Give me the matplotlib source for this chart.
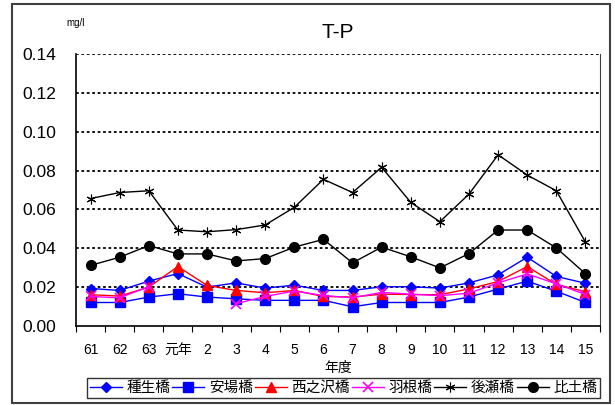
import numpy as np
import matplotlib
matplotlib.use("Agg")
import matplotlib.pyplot as plt
from matplotlib.patches import Rectangle

plt.rcParams['font.family'] = ['Liberation Sans', 'Noto Sans CJK JP', 'DejaVu Sans']

# 年度
years = ['61', '62', '63', '元年', '2', '3', '4', '5', '6', '7', '8', '9',
         '10', '11', '12', '13', '14', '15']

# T-P (mg/l)
tanebashi = [0.0193, 0.0183, 0.0231, 0.027, 0.020, 0.0222, 0.0195, 0.021, 0.0183,
             0.0183, 0.0202, 0.0202, 0.0195, 0.0222, 0.0263, 0.0354, 0.0255, 0.022]
yasubabashi = [0.0121, 0.0121, 0.0149, 0.0166, 0.0149, 0.014, 0.0132, 0.0132, 0.0132,
               0.0099, 0.0121, 0.0121, 0.0121, 0.0149, 0.019, 0.0231, 0.0179, 0.0121]
nishinosawa = [0.0161, 0.0154, 0.020, 0.0306, 0.0209, 0.0183, 0.0171, 0.0183, 0.0152,
               0.0149, 0.0164, 0.0162, 0.0161, 0.0191, 0.0229, 0.0306, 0.0214, 0.0176]
hanebashi = [0.0152, 0.0145, 0.0203, np.nan, np.nan, 0.0115, 0.0152, 0.018, 0.0157,
             0.0145, 0.0173, 0.0164, 0.0156, 0.0169, 0.0222, 0.0268, 0.0217, 0.0162]
nochise = [0.0656, 0.0687, 0.0696, 0.0494, 0.0485, 0.0496, 0.052, 0.0611, 0.0755,
           0.0687, 0.0817, 0.0636, 0.0537, 0.0679, 0.0881, 0.0777, 0.0696, 0.0432]
hijibashi = [0.0312, 0.0354, 0.0414, 0.0371, 0.0371, 0.0335, 0.0347, 0.0406, 0.0446,
             0.0325, 0.0406, 0.0356, 0.0299, 0.0373, 0.0494, 0.0494, 0.0402, 0.0269]

fig = plt.figure(figsize=(6.15, 4.05), dpi=100)
ax = fig.add_axes([76 / 615, 1 - 326 / 405, 524 / 615, 272 / 405])

x = np.arange(len(years))

# 各地点
ax.plot(x, tanebashi, color='#0000FF', lw=1, marker='D', ms=5, label='種生橋')
ax.plot(x, yasubabashi, color='#0000FF', lw=1, marker='s', ms=6.5, label='安場橋')
ax.plot(x, nishinosawa, color='#FF0000', lw=1, marker='^', ms=7, label='西之沢橋')
ax.plot(x, hanebashi, color='#FF00FF', lw=1, marker='x', ms=7, mew=1.2, label='羽根橋')
ax.plot(x, nochise, color='black', lw=1, marker=(6, 2, 0), ms=7, mew=0.8, label='後瀬橋')
ax.plot(x, hijibashi, color='black', lw=1, marker='o', ms=7, label='比土橋')

ax.set_xlim(-0.5, len(years) - 0.5)
ax.set_ylim(0, 0.14)
ax.set_yticks(np.arange(0, 0.141, 0.02))
ax.set_yticklabels([f'{v:.2f}' for v in np.arange(0, 0.141, 0.02)], fontsize=12.5)
ax.set_xticks(x)
ax.set_xticklabels(years, fontsize=10)
ax.set_xticks(np.arange(-0.5, len(years), 1), minor=True)
ax.tick_params(axis='x', which='major', length=0, pad=12)
ax.tick_params(axis='x', which='minor', length=4, direction='out', width=0.8)
ax.tick_params(axis='y', length=0, pad=14)

# 点線のグリッド
for v in np.arange(0.02, 0.141, 0.02):
    ax.axhline(v, color='black', lw=1.3, ls=(0, (1.5, 1.5)), zorder=0)

ax.spines['top'].set_visible(False)
ax.spines['right'].set_color('#404040')
ax.spines['left'].set_linewidth(1.2)
ax.spines['bottom'].set_linewidth(1.2)

ax.set_xlabel('年度', fontsize=10, labelpad=3)
fig.text(338 / 615, 1 - 32 / 405, 'T-P', ha='center', va='center', fontsize=15)
fig.text(76 / 615, 1 - 23 / 405, 'mg/l', ha='center', va='center', fontsize=7)

leg = fig.legend(loc='lower left', bbox_to_anchor=(87 / 615, 1 - 398 / 405, 513 / 615, 24 / 405),
                 mode='expand', ncol=6, fontsize=10.5, frameon=True, fancybox=False,
                 handlelength=2.2, handletextpad=0.3, columnspacing=0.5,
                 borderaxespad=0, borderpad=0.2)
leg.get_frame().set_edgecolor('black')
leg.get_frame().set_linewidth(1)

# 外枠
fig.patches.append(Rectangle((12 / 615, 2 / 405), 598 / 615, 399 / 405,
                             transform=fig.transFigure, fill=False,
                             edgecolor='#404040', lw=1.5))

fig.savefig('out.png', dpi=100)
